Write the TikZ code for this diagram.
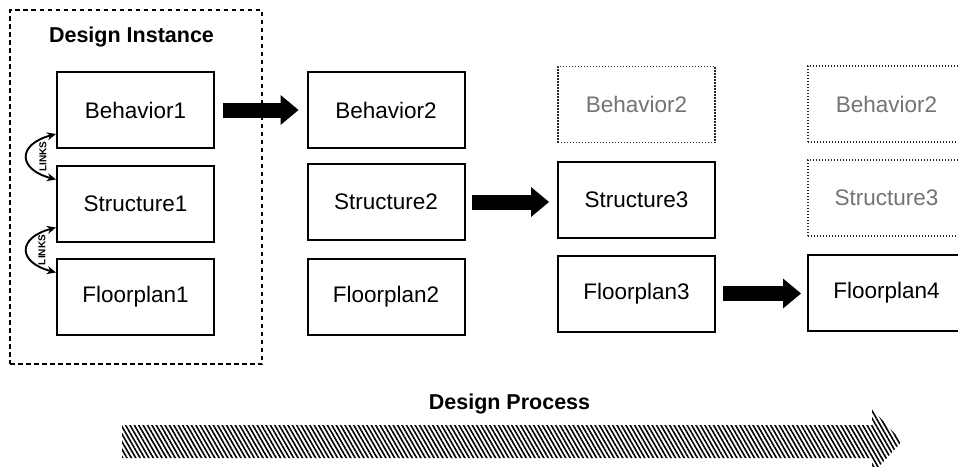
\documentclass[tikz,border=0pt]{standalone}
\usepackage{fontspec}
\setmainfont{Liberation Sans}
\usetikzlibrary{arrows.meta,patterns.meta}
\begin{document}
\begin{tikzpicture}[x=1pt,y=1pt,
  box/.style={draw, line width=2pt, minimum width=157pt, minimum height=76pt,
    inner sep=0pt, font=\fontsize{22.5}{26}\selectfont},
  ghost/.style={box, draw=black!85, line width=1.9pt, dash pattern=on 1.3pt off 1.7pt, text=black!55},
  frame/.style={draw, line width=1.7pt, dash pattern=on 4.5pt off 3.5pt,
    minimum width=252pt, minimum height=354pt, inner sep=0pt},
  heading/.style={font=\fontsize{21.5}{26}\selectfont\bfseries, inner sep=0pt},
  blockarrow/.style={line width=15pt, -{Triangle[width=30pt,length=18pt,line width=0pt]}},
  linkarrow/.style={line width=1.9pt,
    {Stealth[length=9pt,width=8pt]}-{Stealth[length=9pt,width=8pt]}},
  linklabel/.style={font=\fontsize{10}{10}\selectfont\bfseries, inner sep=0pt, rotate=90},
  hatch/.style={pattern={Lines[angle=-60,distance=3.8pt,line width=1.6pt]}},
]
% canvas
\fill[white] (0,0) rectangle (958,-466);
\useasboundingbox (0,0) rectangle (958,-466);
\clip (0,0) rectangle (958,-466);

% design instance frame and title
\node[frame] (inst) at (136,-187) {};
\node[heading, anchor=base] (ititle) at (131.5,-42) {Design Instance};

% column 1
\node[box] (b1) at (135.5,-110)   {Behavior1};
\node[box] (s1) at (135.5,-203.5) {Structure1};
\node[box] (f1) at (135.5,-296.5) {Floorplan1};

% column 2
\node[box] (b2) at (386,-110)   {Behavior2};
\node[box] (s2) at (386,-202)   {Structure2};
\node[box] (f2) at (386,-296.5) {Floorplan2};

% column 3
\node[ghost] (b3) at (636.5,-104.5) {Behavior2};
\node[box]   (s3) at (636.5,-200)   {Structure3};
\node[box]   (f3) at (636.5,-293.5) {Floorplan3};

% column 4
\node[ghost] (b4) at (886.5,-104)   {Behavior2};
\node[ghost] (s4) at (886.5,-198)   {Structure3};
\node[box]   (f4) at (886.5,-292.5) {Floorplan4};

% links between the views of the instance
\draw[linkarrow] ([yshift=15pt]b1.south west)
  .. controls +(195:40pt) and +(165:40pt) .. ([yshift=-15pt]s1.north west)
  node[midway, xshift=16pt, linklabel] (l1) {LINKS};
\draw[linkarrow] ([yshift=15pt]s1.south west)
  .. controls +(195:40pt) and +(165:40pt) .. ([yshift=-15pt]f1.north west)
  node[midway, xshift=15pt, linklabel] (l2) {LINKS};

% transitions
\draw[blockarrow] ([xshift=8pt]b1.east) -- ([xshift=-8pt]b2.west);
\draw[blockarrow] ([xshift=6pt]s2.east) -- ([xshift=-8pt]s3.west |- s2.east);
\draw[blockarrow] ([xshift=7pt]f3.east) -- ([xshift=-6pt]f4.west |- f3.east);

% design process
\node[heading, anchor=base] (ptitle) at (509.5,-409) {Design Process};
\path[hatch] (122,-425) -- (872,-425) -- (872,-409) -- (902,-441.5)
  -- (872,-474) -- (872,-458) -- (122,-458) -- cycle;
\end{tikzpicture}
\end{document}
